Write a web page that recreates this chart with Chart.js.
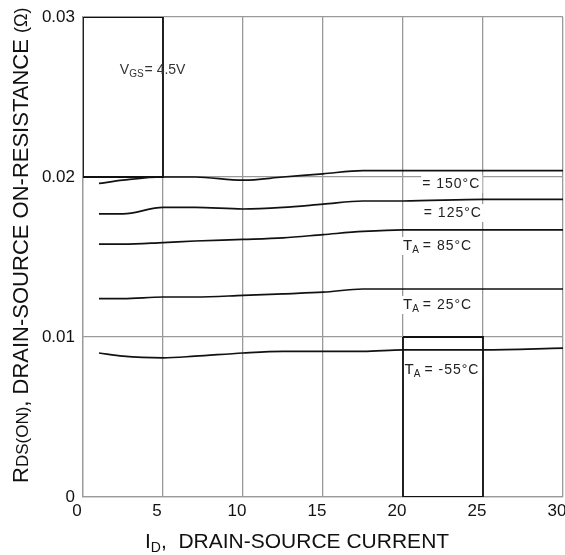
<!DOCTYPE html>
<html>
<head>
<meta charset="utf-8">
<script src="https://cdn.jsdelivr.net/npm/chart.js@4.4.1/dist/chart.umd.min.js"></script>
<style>
  html, body { margin: 0; padding: 0; background: #fff; }
  #wrap { width: 565px; height: 555px; }
</style>
</head>
<body>
<div id="wrap"><canvas id="rds-chart"></canvas></div>
<script>
// drain current samples (A)
const CURRENT = [1, 2.5, 5, 7, 10, 12.5, 15, 17.5, 20, 25, 30];

// RDS(on) in ohms, one array per ambient temperature
const R_150C = [0.0196, 0.0198, 0.0200, 0.0200, 0.0198, 0.0200, 0.0202, 0.0204, 0.0204, 0.0204, 0.0204];
const R_125C = [0.0177, 0.0177, 0.0181, 0.0181, 0.0180, 0.0181, 0.0183, 0.0185, 0.0185, 0.0186, 0.0186];
const R_85C = [0.0158, 0.0158, 0.0159, 0.0160, 0.0161, 0.0162, 0.0164, 0.0166, 0.0167, 0.0167, 0.0167];
const R_25C = [0.0124, 0.0124, 0.0125, 0.0125, 0.0126, 0.0127, 0.0128, 0.0130, 0.0130, 0.0130, 0.0130];
const R_M55C = [0.0090, 0.0088, 0.0087, 0.0088, 0.0090, 0.0091, 0.0091, 0.0091, 0.0092, 0.0092, 0.0093];

const TEMPS = ['150', '125', '85', '25', '-55'];
const X_TICKS = [0, 5, 10, 15, 20, 25, 30];
const Y_TICKS = [0, 0.01, 0.02, 0.03];

// the two black frames printed on the original sheet
const BOX_A_X = [0, 5, 5, 0, 0];
const BOX_A_Y = [0.03, 0.03, 0.02, 0.02, 0.03];
const BOX_B_X = [20, 25, 25, 20, 20];
const BOX_B_Y = [0.01, 0.01, 0, 0, 0.01];

const FONT = '"Liberation Sans", Arial, Helvetica, sans-serif';
const GRID_COLOR = '#9a9a9a';

// where the temperature tags sit (data units) and whether "T_A" is legible
const TAG_POS = [
  { x: 21.2, y: 0.01956, prefix: false },
  { x: 21.3, y: 0.01775, prefix: false },
  { x: 20.0, y: 0.01569, prefix: true },
  { x: 20.0, y: 0.0120, prefix: true },
  { x: 20.1, y: 0.00794, prefix: true },
];

const curves = [R_150C, R_125C, R_85C, R_25C, R_M55C];

function zip(xs, ys) {
  return xs.map((x, i) => ({ x, y: ys[i] }));
}

function tagText(i) {
  return `= ${TEMPS[i]}°C`;
}

const labelsPlugin = {
  id: 'sheetLabels',
  beforeDatasetsDraw(chart) {
    const { ctx, scales: { x, y } } = chart;
    ctx.save();
    ctx.fillStyle = '#fff';
    ctx.font = `14px ${FONT}`;
    ctx.letterSpacing = '1px';
    TAG_POS.forEach((t, i) => {
      const px = x.getPixelForValue(t.x);
      const py = y.getPixelForValue(t.y);
      const w = ctx.measureText(tagText(i)).width + (t.prefix ? 22 : 0);
      ctx.fillRect(px - 1, py - 9, w + 3, 18);
    });
    ctx.restore();
  },
  afterDraw(chart) {
    const { ctx, chartArea, scales: { x, y } } = chart;
    ctx.save();
    ctx.fillStyle = '#222';
    ctx.textBaseline = 'middle';

    // temperature tags
    TAG_POS.forEach((t, i) => {
      let px = x.getPixelForValue(t.x);
      const py = y.getPixelForValue(t.y);
      ctx.letterSpacing = '0px';
      if (t.prefix) {
        ctx.font = `15px ${FONT}`;
        ctx.fillText('T', px, py);
        px += ctx.measureText('T').width;
        ctx.font = `10px ${FONT}`;
        ctx.fillText('A', px, py + 4);
        px += ctx.measureText('A').width + 4;
      }
      ctx.font = `14px ${FONT}`;
      ctx.letterSpacing = '1px';
      ctx.fillText(tagText(i), px, py);
    });
    ctx.letterSpacing = '0px';

    // gate voltage note
    let vx = x.getPixelForValue(2.3);
    const vy = y.getPixelForValue(0.0267);
    ctx.fillStyle = '#333';
    ctx.font = `14px ${FONT}`;
    ctx.fillText('V', vx, vy);
    vx += ctx.measureText('V').width;
    ctx.font = `10px ${FONT}`;
    ctx.fillText('GS', vx, vy + 4);
    vx += ctx.measureText('GS').width + 1;
    ctx.font = `14px ${FONT}`;
    ctx.fillText('= 4.5V', vx, vy);

    // x axis title with subscript
    ctx.fillStyle = '#111';
    ctx.textBaseline = 'alphabetic';
    let tx = chartArea.left + 62;
    const ty = chartArea.bottom + 51;
    ctx.font = `21px ${FONT}`;
    ctx.fillText('I', tx, ty);
    tx += ctx.measureText('I').width;
    ctx.font = `14px ${FONT}`;
    ctx.fillText('D', tx, ty + 4);
    tx += ctx.measureText('D').width;
    ctx.font = `21px ${FONT}`;
    ctx.fillText(',  DRAIN-SOURCE CURRENT', tx, ty);

    // y axis title, rotated
    ctx.translate(28, 483);
    ctx.rotate(-Math.PI / 2);
    let ry = 0;
    ctx.font = `22px ${FONT}`;
    ctx.fillText('R', ry, 0);
    ry += ctx.measureText('R').width;
    ctx.font = `17px ${FONT}`;
    ctx.fillText('DS(ON)', ry, 0);
    ry += ctx.measureText('DS(ON)').width;
    ctx.font = `22px ${FONT}`;
    ctx.fillText(', DRAIN-SOURCE ON-RESISTANCE ', ry, 0);
    ry += ctx.measureText(', DRAIN-SOURCE ON-RESISTANCE ').width;
    ctx.font = `18px ${FONT}`;
    ctx.fillText('(Ω)', ry, -1);
    ctx.restore();
  },
};

const curveSets = curves.map((vals, i) => ({
  label: `TA = ${TEMPS[i]}°C`,
  data: zip(CURRENT, vals),
  borderColor: '#111',
  borderWidth: 1.7,
  pointRadius: 0,
  cubicInterpolationMode: 'monotone',
  fill: false,
}));

const boxSets = [[BOX_A_X, BOX_A_Y], [BOX_B_X, BOX_B_Y]].map(([xs, ys]) => ({
  label: 'frame',
  data: zip(xs, ys),
  borderColor: '#111',
  borderWidth: 1.8,
  pointRadius: 0,
  tension: 0,
  fill: false,
}));

new Chart(document.getElementById('rds-chart'), {
  type: 'line',
  data: { datasets: [...curveSets, ...boxSets] },
  options: {
    responsive: true,
    maintainAspectRatio: false,
    animation: false,
    layout: { padding: { top: 17, right: 2, left: 0, bottom: 0 } },
    scales: {
      x: {
        type: 'linear',
        min: 0,
        max: 30,
        afterBuildTicks(scale) { scale.ticks = X_TICKS.map((v) => ({ value: v })); },
        afterFit(scale) {
          scale.height = 58;
          scale.paddingLeft = 0;
          scale.paddingRight = 0;
        },
        grid: { color: GRID_COLOR, lineWidth: 1.3, drawTicks: false },
        border: { display: true, color: GRID_COLOR, width: 1.3 },
        ticks: {
          padding: 4,
          labelOffset: -6,
          color: '#111',
          font: { family: FONT, size: 17 },
          maxRotation: 0,
        },
      },
      y: {
        min: 0,
        max: 0.03,
        afterBuildTicks(scale) { scale.ticks = Y_TICKS.map((v) => ({ value: v })); },
        afterFit(scale) {
          scale.width = 83;
          scale.paddingTop = 0;
          scale.paddingBottom = 0;
        },
        grid: { color: GRID_COLOR, lineWidth: 1.3, drawTicks: false },
        border: { display: true, color: GRID_COLOR, width: 1.3 },
        ticks: {
          padding: 8,
          color: '#111',
          font: { family: FONT, size: 17 },
          callback: (v) => (v === 0 ? '0' : v.toFixed(2)),
        },
      },
    },
    plugins: {
      legend: { display: false },
      tooltip: { enabled: false },
    },
  },
  plugins: [labelsPlugin],
});
</script>
</body>
</html>
